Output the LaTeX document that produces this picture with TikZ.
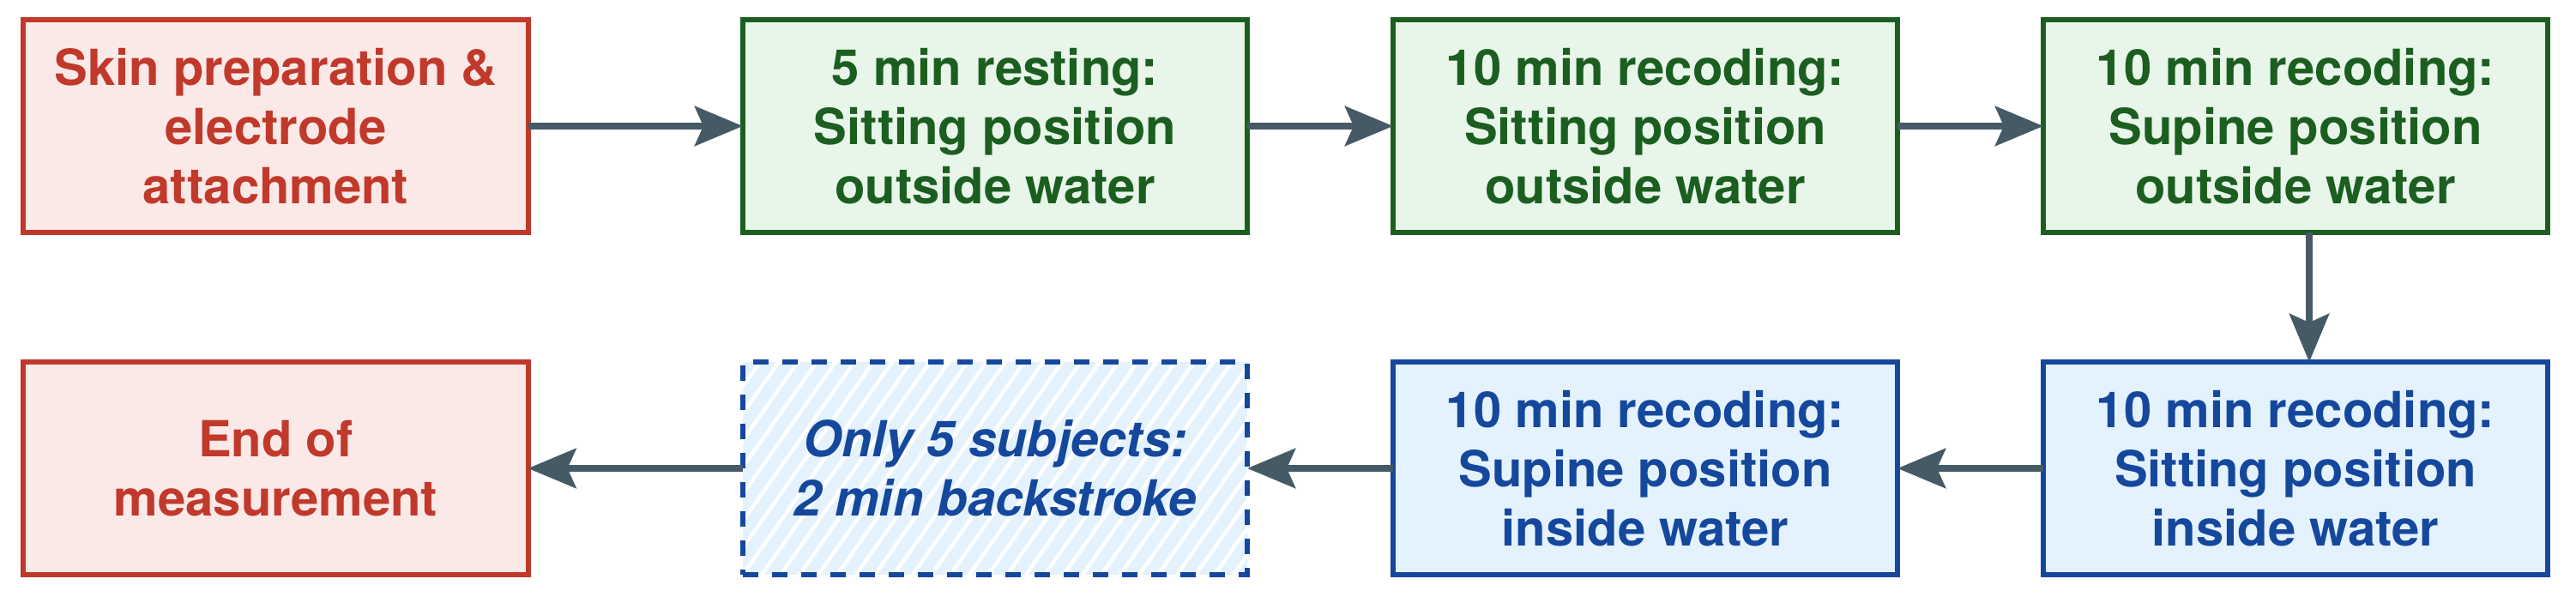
\documentclass[tikz,border=0pt]{standalone}
\usepackage{fontspec}
\setmainfont{TeX Gyre Heros}
\usetikzlibrary{arrows.meta}
\definecolor{redD}{HTML}{C0392B}
\definecolor{redL}{HTML}{FBE9E7}
\definecolor{grnD}{HTML}{1B5E20}
\definecolor{grnL}{HTML}{E8F5E9}
\definecolor{bluD}{HTML}{15479C}
\definecolor{bluL}{HTML}{E3F2FD}
\definecolor{arrC}{HTML}{455A64}
\begin{document}
\begin{tikzpicture}[
  box/.style={rectangle, minimum width=5.88cm, minimum height=2.48cm, inner sep=0pt, outer sep=0pt,
    line width=0.06cm, align=center, font=\fontsize{16.5pt}{19.6pt}\selectfont\bfseries},
  redbox/.style={box, draw=redD, fill=redL, text=redD},
  grnbox/.style={box, draw=grnD, fill=grnL, text=grnD},
  blubox/.style={box, draw=bluD, fill=bluL, text=bluD},
  hatchbox/.style={box, draw=bluD, fill=bluL, text=bluD, dash pattern=on 0.18cm off 0.16cm,
    font=\fontsize{16.5pt}{19.6pt}\selectfont\bfseries\itshape,
    path picture={\foreach \i in {-12,...,28}{\draw[white, solid, line width=0.045cm]
      ([xshift=\i*0.22cm]path picture bounding box.south west) -- ++(2.0,2.85);}}},
  arr/.style={draw=arrC, line width=0.083cm, -{Stealth[length=0.56cm, width=0.46cm, inset=0.1cm]}},
]
\useasboundingbox (0,0) rectangle (30.03,-6.96);
\node[redbox] (b1) at (3.215,-1.47) {Skin preparation \&\\electrode\\attachment};
\node[grnbox] (b2) at (11.60,-1.47) {5 min resting:\\Sitting position\\outside water};
\node[grnbox] (b3) at (19.18,-1.47) {10 min recoding:\\Sitting position\\outside water};
\node[grnbox] (b4) at (26.76,-1.47) {10 min recoding:\\Supine position\\outside water};
\node[redbox] (b5) at (3.215,-5.46) {End of\\measurement};
\node[hatchbox] (b6) at (11.60,-5.46) {Only 5 subjects:\\2 min backstroke};
\node[blubox] (b7) at (19.18,-5.46) {10 min recoding:\\Supine position\\inside water};
\node[blubox] (b8) at (26.76,-5.46) {10 min recoding:\\Sitting position\\inside water};
\draw[arr] (b1) -- (b2);
\draw[arr] (b2) -- (b3);
\draw[arr] (b3) -- (b4);
\draw[arr] ([xshift=0.16cm]b4.south) -- ([xshift=0.16cm]b8.north);
\draw[arr] (b8) -- (b7);
\draw[arr] (b7) -- (b6);
\draw[arr] (b6) -- (b5);
\end{tikzpicture}
\end{document}
